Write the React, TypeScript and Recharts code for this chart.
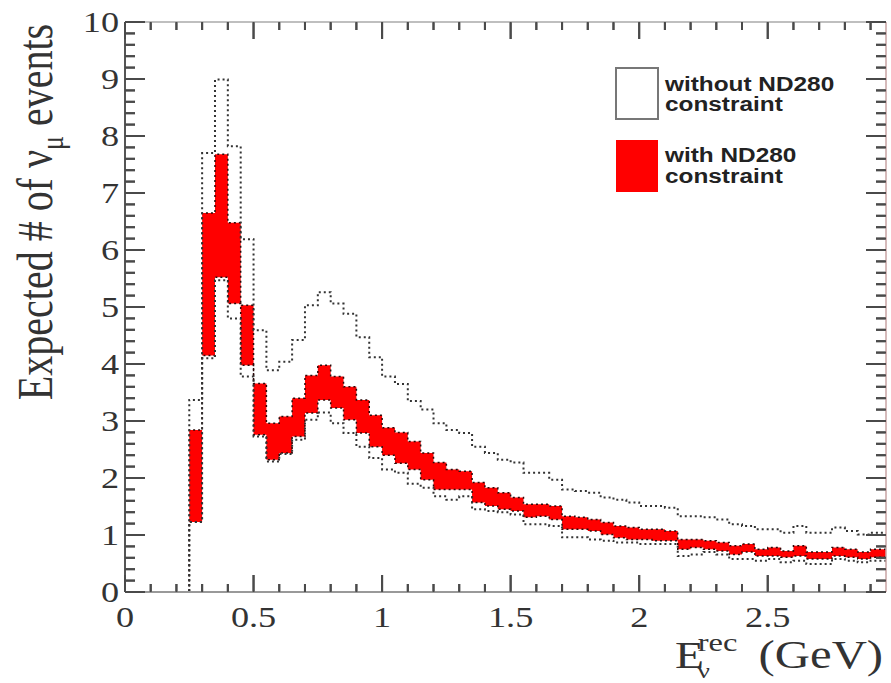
import { ComposedChart, Area, Line, XAxis, YAxis, ReferenceLine } from 'recharts'

// left edges of the 0.05 GeV bins
const binEdges = [
  0, 0.05, 0.1, 0.15, 0.2, 0.25, 0.3, 0.35, 0.4, 0.45, 0.5, 0.55, 0.6, 0.65, 0.7, 0.75, 0.8, 0.85,
  0.9, 0.95, 1.0, 1.05, 1.1, 1.15, 1.2, 1.25, 1.3, 1.35, 1.4, 1.45, 1.5, 1.55, 1.6, 1.65, 1.7,
  1.75, 1.8, 1.85, 1.9, 1.95, 2.0, 2.05, 2.1, 2.15, 2.2, 2.25, 2.3, 2.35, 2.4, 2.45, 2.5, 2.55,
  2.6, 2.65, 2.7, 2.75, 2.8, 2.85, 2.9, 2.95,
]

// without ND280 constraint: upper / lower edge of the band
const withoutHigh = [
  0, 0, 0, 0, 0,
  3.37, 7.7, 8.99, 7.82, 6.19, 4.59, 3.89, 4.04, 4.42, 5.03,
  5.26, 5.06, 4.88, 4.47, 4.12, 3.78, 3.65, 3.35, 3.2, 2.96,
  2.84, 2.79, 2.55, 2.44, 2.32, 2.27, 2.09, 2.09, 1.97, 1.8,
  1.77, 1.74, 1.66, 1.62, 1.57, 1.51, 1.51, 1.48, 1.33, 1.33,
  1.31, 1.27, 1.19, 1.16, 1.1, 1.1, 1.04, 1.16, 1.04, 1.04,
  1.13, 1.07, 1.01, 1.04, 1.04,
]
const withoutLow = [
  0, 0, 0, 0, 0,
  1.23, 4.1, 5.47, 4.8, 3.78, 2.73, 2.29, 2.42, 2.67, 3.02,
  3.15, 2.96, 2.79, 2.55, 2.35, 2.15, 2.09, 1.9, 1.83, 1.68,
  1.62, 1.68, 1.45, 1.42, 1.4, 1.36, 1.19, 1.19, 1.16, 0.96,
  0.96, 0.92, 0.9, 0.87, 0.87, 0.84, 0.84, 0.84, 0.63, 0.66,
  0.7, 0.66, 0.58, 0.58, 0.55, 0.58, 0.52, 0.55, 0.49, 0.49,
  0.58, 0.55, 0.52, 0.55, 0.55,
]

// with ND280 constraint
const withHigh = [
  0, 0, 0, 0, 0,
  2.84, 6.65, 7.68, 6.48, 5.03, 3.66, 2.96, 3.08, 3.4, 3.8,
  3.98, 3.78, 3.6, 3.37, 3.1, 2.88, 2.8, 2.64, 2.44, 2.27,
  2.15, 2.12, 1.92, 1.83, 1.74, 1.66, 1.54, 1.54, 1.51, 1.33,
  1.31, 1.27, 1.22, 1.16, 1.13, 1.1, 1.1, 1.07, 0.92, 0.92,
  0.9, 0.87, 0.81, 0.84, 0.75, 0.78, 0.72, 0.81, 0.7, 0.7,
  0.78, 0.75, 0.7, 0.75, 0.75,
]
const withLow = [
  0, 0, 0, 0, 0,
  1.23, 4.15, 5.52, 5.06, 3.98, 2.76, 2.32, 2.44, 2.73, 3.14,
  3.37, 3.23, 3.02, 2.79, 2.55, 2.4, 2.26, 2.15, 1.97, 1.8,
  1.8, 1.8, 1.57, 1.51, 1.45, 1.42, 1.31, 1.33, 1.27, 1.1,
  1.1, 1.07, 1.01, 0.95, 0.92, 0.92, 0.9, 0.9, 0.75, 0.78,
  0.75, 0.72, 0.66, 0.7, 0.63, 0.63, 0.61, 0.63, 0.58, 0.58,
  0.63, 0.61, 0.58, 0.61, 0.61,
]

const xMajorTicks = [0, 0.5, 1, 1.5, 2, 2.5]
const xMinorTicks = [
  0.1, 0.2, 0.3, 0.4, 0.6, 0.7, 0.8, 0.9, 1.1, 1.2, 1.3, 1.4, 1.6, 1.7, 1.8, 1.9, 2.1, 2.2, 2.3,
  2.4, 2.6, 2.7, 2.8, 2.9,
]
const yMajorTicks = [0, 1, 2, 3, 4, 5, 6, 7, 8, 9, 10]
const yMinorTicks = [
  0.2, 0.4, 0.6, 0.8, 1.2, 1.4, 1.6, 1.8, 2.2, 2.4, 2.6, 2.8, 3.2, 3.4, 3.6, 3.8, 4.2, 4.4, 4.6,
  4.8, 5.2, 5.4, 5.6, 5.8, 6.2, 6.4, 6.6, 6.8, 7.2, 7.4, 7.6, 7.8, 8.2, 8.4, 8.6, 8.8, 9.2, 9.4,
  9.6, 9.8,
]

const W = 891
const H = 683
const PLOT_LEFT = 125
const PLOT_RIGHT = 886
const PLOT_TOP = 22
const PLOT_BOTTOM = 592
const X_MAX = 2.96
const Y_MAX = 10
const STRETCH = 1.25
const SERIF = '"Liberation Serif", "DejaVu Serif", serif'
const SANS = '"Liberation Sans", Arial, sans-serif'
const TICK_COLOR = '#4a4a4a'
const TICK_WIDTH = 2
const DOT_COLOR = '#333'

// pixel length of a tick expressed in axis units, for the reference-line tick marks
const PX_PER_X = (PLOT_RIGHT - PLOT_LEFT) / X_MAX
const PX_PER_Y = (PLOT_BOTTOM - PLOT_TOP) / Y_MAX

const xAllTicks = [...xMajorTicks, ...xMinorTicks].sort((a, b) => a - b)
const yAllTicks = [...yMajorTicks, ...yMinorTicks].sort((a, b) => a - b)

const xTickLen = (v: number) => (xMajorTicks.includes(v) ? 17 : 8)
const yTickLen = (v: number) => (yMajorTicks.includes(v) ? 20 : 10)

const tickSegments = [
  ...xAllTicks.flatMap((v) => {
    const len = xTickLen(v) / PX_PER_Y
    return [
      [{ x: v, y: 0 }, { x: v, y: len }],
      [{ x: v, y: Y_MAX }, { x: v, y: Y_MAX - len }],
    ]
  }),
  ...yAllTicks.flatMap((v) => {
    const len = yTickLen(v) / PX_PER_X
    return [
      [{ x: 0, y: v }, { x: len, y: v }],
      [{ x: X_MAX, y: v }, { x: X_MAX - len, y: v }],
    ]
  }),
]

// one row per bin (stepAfter), plus a closing row at the right edge of the frame
const rows = binEdges.map((e, i) => ({
  e,
  withoutHigh: withoutHigh[i],
  withoutLow: withoutLow[i],
  withHigh: withHigh[i],
  withLow: withLow[i],
}))
rows.push({ ...rows[rows.length - 1], e: X_MAX })

function XTick({ x, payload }: any) {
  const major = xMajorTicks.includes(payload.value)
  const len = xTickLen(payload.value)
  return (
    <g>
      <line x1={x} x2={x} y1={PLOT_BOTTOM} y2={PLOT_BOTTOM - len} stroke={TICK_COLOR} strokeWidth={TICK_WIDTH} />
      <line x1={x} x2={x} y1={PLOT_TOP} y2={PLOT_TOP + len} stroke={TICK_COLOR} strokeWidth={TICK_WIDTH} />
      {major && (
        <g transform={`translate(${x},${PLOT_BOTTOM + 35}) scale(${STRETCH},1)`}>
          <text textAnchor="middle" fontSize={29} fontFamily={SERIF} fill="#333">
            {payload.value}
          </text>
        </g>
      )}
    </g>
  )
}

function YTick({ y, payload }: any) {
  const major = yMajorTicks.includes(payload.value)
  const len = yTickLen(payload.value)
  return (
    <g>
      <line x1={PLOT_LEFT} x2={PLOT_LEFT + len} y1={y} y2={y} stroke={TICK_COLOR} strokeWidth={TICK_WIDTH} />
      <line x1={PLOT_RIGHT} x2={PLOT_RIGHT - len} y1={y} y2={y} stroke={TICK_COLOR} strokeWidth={TICK_WIDTH} />
      {major && (
        <g transform={`translate(${PLOT_LEFT - 6},${y + 10}) scale(${STRETCH},1)`}>
          <text textAnchor="end" fontSize={29} fontFamily={SERIF} fill="#333">
            {payload.value}
          </text>
        </g>
      )}
    </g>
  )
}

function Titles() {
  return (
    <svg width={W} height={H} style={{ position: 'absolute', left: 0, top: 0, pointerEvents: 'none' }}>
      <g transform={`translate(52,212) scale(${STRETCH},1) rotate(-90)`}>
        <text textAnchor="middle" fontSize={40} fontFamily={SERIF} fill="#333">
          Expected # of ν
          <tspan fontSize={26} dy={9}>μ</tspan>
          <tspan dy={-9}> events</tspan>
        </text>
      </g>
      <g transform={`translate(675,668) scale(${STRETCH},1)`}>
        <text fontFamily={SERIF} fill="#333" fontSize={38}>
          E
          <tspan fontSize={26} dx={-5} dy={-17}>rec</tspan>
          <tspan fontSize={22} dx={-32} dy={27}>ν</tspan>
          <tspan fontSize={39} dx={39} dy={-10}>(GeV)</tspan>
        </text>
      </g>

      <rect x={616} y={68} width={42} height={51} fill="#fff" stroke="#777" strokeWidth={2} />
      <rect x={616} y={140} width={42} height={52} fill="#ff0000" />
      <g fontFamily={SANS} fontWeight="bold" fontSize={19.5} fill="#222">
        <g transform={`translate(665,91) scale(${STRETCH},1)`}>
          <text>
            without ND280
            <tspan x={0} dy={20.5}>constraint</tspan>
          </text>
        </g>
        <g transform={`translate(665,162) scale(${STRETCH},1)`}>
          <text>
            with ND280
            <tspan x={0} dy={21}>constraint</tspan>
          </text>
        </g>
      </g>
    </svg>
  )
}

export default function App() {
  return (
    <div style={{ position: 'absolute', left: 0, top: 0, width: W, height: H, background: '#fff' }}>
      <ComposedChart
        width={W}
        height={H}
        data={rows}
        margin={{ top: PLOT_TOP, right: W - PLOT_RIGHT, bottom: 0, left: 0 }}
      >
        {tickSegments.map((seg, i) => (
          <ReferenceLine key={`tick-${i}`} segment={seg} stroke={TICK_COLOR} strokeWidth={TICK_WIDTH} />
        ))}
        <Area
          dataKey={(d: any) => [d.withLow, d.withHigh]}
          type="stepAfter"
          fill="#ff0000"
          fillOpacity={1}
          stroke="#2a0a0a"
          strokeWidth={1.5}
          strokeDasharray="2 3"
          isAnimationActive={false}
          activeDot={false}
        />
        <Line
          dataKey="withoutHigh"
          type="stepAfter"
          stroke={DOT_COLOR}
          strokeWidth={2}
          strokeDasharray="2 3"
          dot={false}
          activeDot={false}
          isAnimationActive={false}
        />
        <Line
          dataKey="withoutLow"
          type="stepAfter"
          stroke={DOT_COLOR}
          strokeWidth={2}
          strokeDasharray="2 3"
          dot={false}
          activeDot={false}
          isAnimationActive={false}
        />
        <ReferenceLine y={Y_MAX} stroke="#aaa" strokeWidth={1.5} />
        <ReferenceLine x={X_MAX} stroke="#c9a4a4" strokeWidth={1.5} />
        <XAxis
          dataKey="e"
          type="number"
          domain={[0, X_MAX]}
          ticks={xAllTicks}
          interval={0}
          height={H - PLOT_BOTTOM}
          tickSize={0}
          tickMargin={0}
          tickLine={false}
          axisLine={{ stroke: '#999', strokeWidth: 2 }}
          tick={(p: any) => <XTick {...p} />}
        />
        <YAxis
          type="number"
          domain={[0, Y_MAX]}
          ticks={yAllTicks}
          interval={0}
          width={PLOT_LEFT}
          tickSize={0}
          tickMargin={0}
          tickLine={false}
          axisLine={{ stroke: '#555', strokeWidth: 2 }}
          tick={(p: any) => <YTick {...p} />}
        />
      </ComposedChart>
      <Titles />
    </div>
  )
}
